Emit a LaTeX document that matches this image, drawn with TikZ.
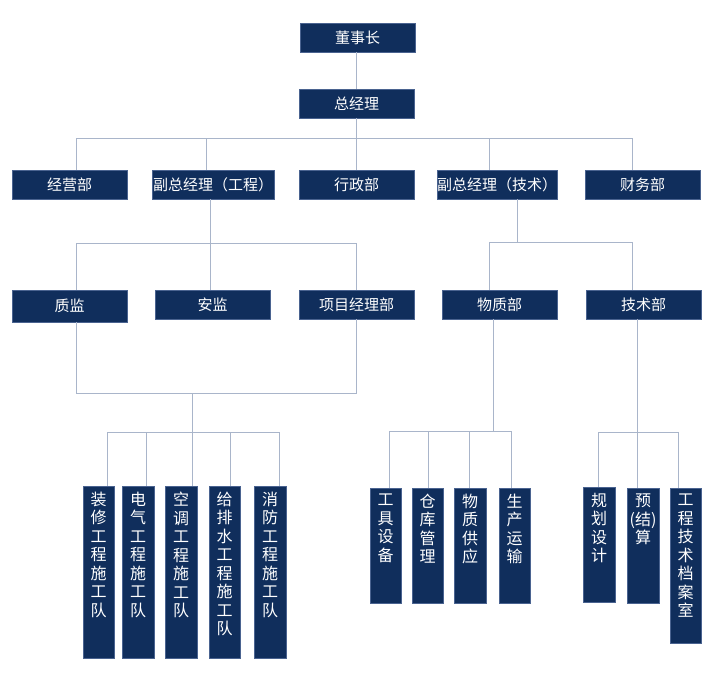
\documentclass[tikz,border=0pt]{standalone}
\usepackage{fontspec}
\newfontfamily\cjk{Noto Sans CJK SC}
\definecolor{navy}{HTML}{102E5C}
\definecolor{navyedge}{HTML}{4A6390}
\definecolor{connc}{HTML}{A9B5CA}
\tikzset{
  boxs/.style={rectangle, fill=navy, draw=navyedge, line width=0.5pt, text=white,
    font=\cjk\fontsize{15}{18.5}\selectfont, inner sep=0pt},
  vboxs/.style={boxs, font=\cjk\fontsize{16}{18.5}\selectfont},
  conn/.style={draw=connc, line width=1pt}
}
\newcommand\hbx[6]{\node[boxs, minimum width={(#4-#2)*1pt}, minimum height={(#5-#3)*1pt}] (#1) at ({(#2+#4)/2},{(#3+#5)/2}) {#6};}
\newcommand\vbx[6]{\node[vboxs, minimum width={(#4-#2)*1pt}, minimum height={(#5-#3)*1pt}] (#1) at ({(#2+#4)/2},{(#3+#5)/2}) {\parbox[c][\dimexpr #5pt-#3pt-12pt\relax][t]{\dimexpr #4pt-#2pt\relax}{\centering #6}};}
\begin{document}
\begin{tikzpicture}[x=1pt,y=-1pt]
\useasboundingbox (0,0) rectangle (716,689);
% level 0/1
\hbx{dsz}{300}{23}{415}{52}{董事长}
\hbx{zjl}{299}{89}{414}{118}{总经理}
% level 2
\hbx{jyb}{12}{170}{127}{199}{经营部}
\hbx{fzg}{152}{170}{274}{199}{副总经理（工程）}
\hbx{xzb}{299}{170}{414}{199}{行政部}
\hbx{fzj}{437}{170}{557}{199}{副总经理（技术）}
\hbx{cwb}{585}{170}{700}{199}{财务部}
% level 3
\hbx{zj}{12}{290}{127}{322}{质监}
\hbx{aj}{155}{290}{270}{319}{安监}
\hbx{xm}{299}{290}{414}{319}{项目经理部}
\hbx{wzb}{442}{290}{557}{319}{物质部}
\hbx{jsb}{586}{290}{701}{319}{技术部}
% level 4
\vbx{zx}{83}{486}{114}{658}{装\\修\\工\\程\\施\\工\\队}
\vbx{dq}{122}{486}{154}{658}{电\\气\\工\\程\\施\\工\\队}
\vbx{kt}{165}{486}{197}{658}{空\\调\\工\\程\\施\\工\\队}
\vbx{gps}{209}{486}{240}{658}{给\\排\\水\\工\\程\\施\\工\\队}
\vbx{xf}{254}{486}{286}{658}{消\\防\\工\\程\\施\\工\\队}
\vbx{gj}{370}{488}{401}{603}{工\\具\\设\\备}
\vbx{ck}{412}{488}{443}{603}{仓\\库\\管\\理}
\vbx{wzgy}{454}{488}{486}{603}{物\\质\\供\\应}
\vbx{scys}{499}{488}{530}{603}{生\\产\\运\\输}
\vbx{gh}{583}{487}{615}{602}{规\\划\\设\\计}
\vbx{yjs}{627}{488}{659}{603}{预\\(结)\\算}
\vbx{gcjs}{670}{488}{701}{643}{工\\程\\技\\术\\档\\案\\室}
% bus coordinates
\coordinate (c1a) at (76,138);
\coordinate (c1b) at (206,138);
\coordinate (c1c) at (356.5,138);
\coordinate (c1d) at (489,138);
\coordinate (c1e) at (632,138);
\coordinate (c2a) at (76,243);
\coordinate (c2b) at (210,243);
\coordinate (c2c) at (356,243);
\coordinate (c2d) at (489,242);
\coordinate (c2e) at (517,242);
\coordinate (c2f) at (632,242);
\coordinate (c3a) at (76,393);
\coordinate (c3b) at (356,393);
\coordinate (c3c) at (192,393);
\coordinate (c4a) at (107,432);
\coordinate (c4b) at (146,432);
\coordinate (c4c) at (192,432);
\coordinate (c4d) at (230,432);
\coordinate (c4e) at (279,432);
\coordinate (c5a) at (389,431);
\coordinate (c5b) at (428,431);
\coordinate (c5c) at (469,431);
\coordinate (c5m) at (493,431);
\coordinate (c5d) at (511,431);
\coordinate (c6a) at (598,432);
\coordinate (c6b) at (637,432);
\coordinate (c6c) at (678,432);
% connectors
\draw[conn] (dsz.south -| c1c) -- (zjl.north -| c1c);
\draw[conn] (zjl.south -| c1c) -- (c1c);
\draw[conn] (c1a) -- (c1e);
\draw[conn] (c1a) -- (jyb.north -| c1a);
\draw[conn] (c1b) -- (fzg.north -| c1b);
\draw[conn] (c1c) -- (xzb.north -| c1c);
\draw[conn] (c1d) -- (fzj.north -| c1d);
\draw[conn] (c1e) -- (cwb.north -| c1e);
% under fzg
\draw[conn] (fzg.south -| c2b) -- (c2b);
\draw[conn] (c2a) -- (c2c);
\draw[conn] (c2a) -- (zj.north -| c2a);
\draw[conn] (c2b) -- (aj.north -| c2b);
\draw[conn] (c2c) -- (xm.north -| c2c);
% under fzj
\draw[conn] (fzj.south -| c2e) -- (c2e);
\draw[conn] (c2d) -- (c2f);
\draw[conn] (c2d) -- (wzb.north -| c2d);
\draw[conn] (c2f) -- (jsb.north -| c2f);
% teams
\draw[conn] (zj.south -| c3a) -- (c3a) -- (c3b) -- (xm.south -| c3b);
\draw[conn] (c3c) -- (c4c);
\draw[conn] (c4a) -- (c4e);
\draw[conn] (c4a) -- (zx.north -| c4a);
\draw[conn] (c4b) -- (dq.north -| c4b);
\draw[conn] (c4c) -- (kt.north -| c4c);
\draw[conn] (c4d) -- (gps.north -| c4d);
\draw[conn] (c4e) -- (xf.north -| c4e);
% materials
\draw[conn] (wzb.south -| c5m) -- (c5m);
\draw[conn] (c5a) -- (c5d);
\draw[conn] (c5a) -- (gj.north -| c5a);
\draw[conn] (c5b) -- (ck.north -| c5b);
\draw[conn] (c5c) -- (wzgy.north -| c5c);
\draw[conn] (c5d) -- (scys.north -| c5d);
% tech
\draw[conn] (jsb.south -| c6b) -- (c6b);
\draw[conn] (c6a) -- (c6c);
\draw[conn] (c6a) -- (gh.north -| c6a);
\draw[conn] (c6b) -- (yjs.north -| c6b);
\draw[conn] (c6c) -- (gcjs.north -| c6c);
\end{tikzpicture}
\end{document}
